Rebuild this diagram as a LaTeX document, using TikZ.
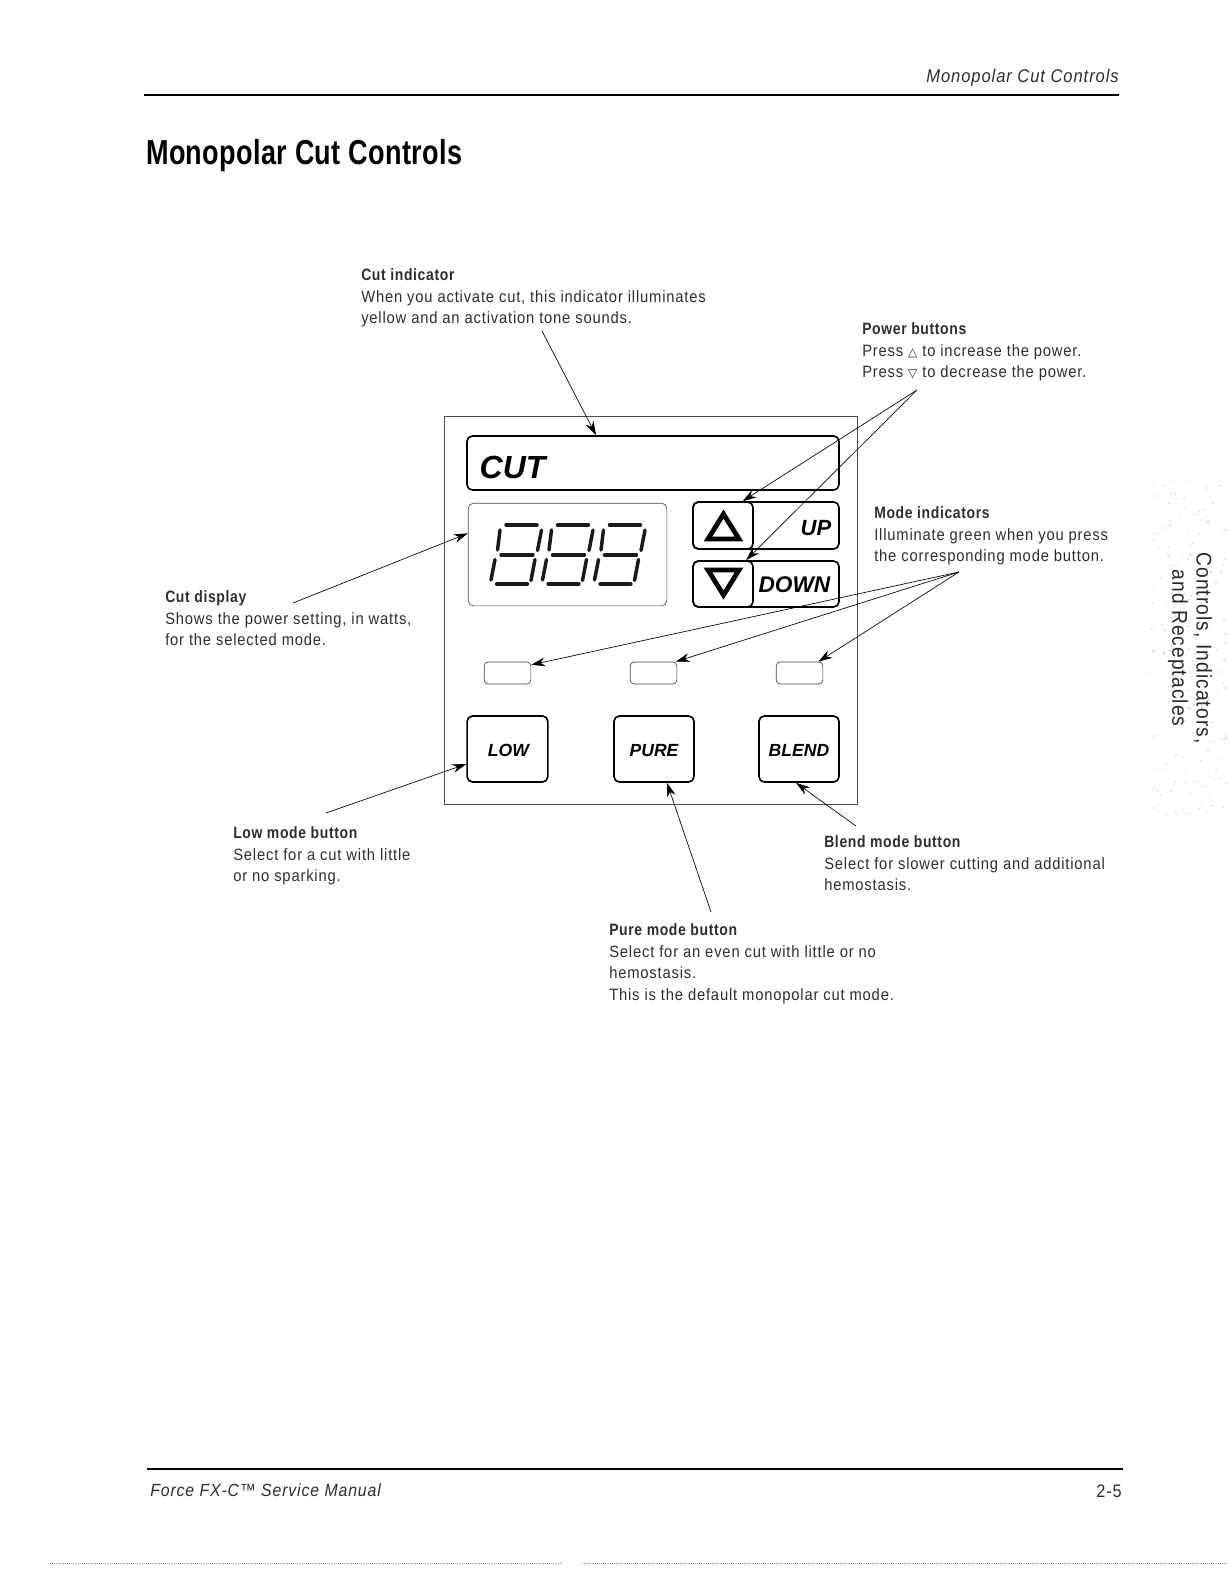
\documentclass[tikz,border=0pt]{standalone}
\usepackage{fontspec}
\setmainfont[FakeStretch=0.9, LetterSpace=5, BoldFeatures={FakeStretch=0.85, LetterSpace=4}]{Liberation Sans}
\newfontfamily\panelfont{Liberation Sans}
\newfontfamily\titlefont[FakeStretch=0.78, LetterSpace=1]{Liberation Sans}
\newfontfamily\symfont{DejaVu Sans}
\usetikzlibrary{arrows.meta, positioning}
\definecolor{inkgrey}{RGB}{45, 45, 45}
\begin{document}
\begin{tikzpicture}[
  x=0.75pt, y=-0.75pt,
  lbl/.style={anchor=north west, inner sep=0pt, align=left, text=inkgrey, font=\fontsize{12.3}{16.4}\selectfont},
  callout/.style={draw=black, line width=0.5pt, -{Stealth[length=10.5pt,width=6.5pt]}},
  panelkey/.style={draw=black, line width=1.2pt, rounded corners=4pt, inner sep=0pt},
  lamp/.style={draw=black!75, line width=0.5pt, rounded corners=3pt, inner sep=0pt, minimum width=35pt, minimum height=16.5pt},
  keytext/.style={font=\panelfont\bfseries\itshape\fontsize{13.2}{14}\selectfont},
  segment/.style={line width=2.6pt, line cap=round, black!90},
  thickseg/.style={line width=3.2pt, line cap=round, black!90},
  tabtext/.style={rotate=-90, anchor=center, text=black!85, font=\fontsize{16}{18}\selectfont}
]
  \useasboundingbox (0,0) rectangle (1228,1574);

  % page head
  \node[lbl, anchor=east, font=\itshape\fontsize{13.8}{16}\selectfont] (headtext) at (1119,78) {Monopolar Cut Controls};
  \coordinate (headl) at (144,95);
  \coordinate (headr) at (1119,95);
  \draw[line width=1.2pt] (headl) -- (headr);
  \node[lbl, anchor=west, text=black, font=\titlefont\bfseries\fontsize{26}{28}\selectfont] (title) at (146,156) {Monopolar Cut Controls};

  % front panel
  \node[draw=black!70, line width=0.6pt, inner sep=0pt, minimum width=309.75pt, minimum height=291pt] (panel) at (650.5,610) {};
  \node[panelkey, minimum width=279pt, minimum height=40.5pt] (cutbox) at (653,463) {};
  \node[anchor=west, font=\panelfont\bfseries\itshape\fontsize{24}{26}\selectfont] (cuttext) at (475,467) {CUT};
  \node[draw=black!70, line width=0.5pt, rounded corners=4pt, inner sep=0pt, minimum width=149pt, minimum height=77pt] (display) at (567.5,554.5) {};

  % 888 readout
  \foreach \dx in {0,51.5,103.5} {
    \begin{scope}[xshift=\dx*0.75pt]
      \draw[segment] (506,525) -- (537,525);
      \draw[segment] (501,555) -- (533,555);
      \draw[thickseg] (497,584) -- (527,584);
      \draw[segment] (500,530) -- (497.5,550);
      \draw[segment] (495,559.5) -- (491,580);
      \draw[segment] (541.5,530) -- (537.5,550.5);
      \draw[segment] (535,559.5) -- (531,580.5);
    \end{scope}
  }

  % power keys
  \node[panelkey, minimum width=109.5pt, minimum height=35.25pt] (upkey) at (766,525.5) {};
  \node[panelkey, minimum width=109.5pt, minimum height=34.5pt] (downkey) at (766,584) {};
  \node[panelkey, minimum width=45pt, minimum height=35.25pt] (upsym) at (723,525.5) {};
  \node[panelkey, minimum width=45pt, minimum height=34.5pt] (downsym) at (723,584) {};
  \draw[line width=3.6pt, line join=miter] (723.5,514) -- (739,539) -- (708,539) -- cycle;
  \draw[line width=3.6pt, line join=miter] (708,570) -- (739,570) -- (723.5,595) -- cycle;
  \node[anchor=east, font=\panelfont\bfseries\itshape\fontsize{16.5}{18}\selectfont] (uptext) at (836,528) {UP};
  \node[anchor=east, font=\panelfont\bfseries\itshape\fontsize{17}{18}\selectfont] (downtext) at (835,585) {DOWN};

  % mode lamps and keys
  \node[lamp] (lowlamp) at (507.5,673) {};
  \node[lamp] (purelamp) at (653.5,673) {};
  \node[lamp] (blendlamp) at (799.5,673) {};
  \node[panelkey, minimum width=60.5pt, minimum height=49.5pt] (lowkey) at (507.5,749) {};
  \node[panelkey, minimum width=60pt, minimum height=49.5pt] (purekey) at (654,749) {};
  \node[panelkey, minimum width=60pt, minimum height=49.5pt] (blendkey) at (799,749) {};
  \node[keytext] (lowtext) at (508.5,750.5) {LOW};
  \node[keytext] (puretext) at (654,750.5) {PURE};
  \node[keytext] (blendtext) at (799,750.5) {BLEND};

  % labels
  \node[lbl] (cutlbl) at (361,268) {\textbf{Cut indicator}\\
    When you activate cut, this indicator illuminates\\
    yellow and an activation tone sounds.};
  \node[lbl] (powerlbl) at (862,322) {\textbf{Power buttons}\\
    Press {\symfont\small △} to increase the power.\\
    Press {\symfont\small ▽} to decrease the power.};
  \node[lbl] (modelbl) at (874,506) {\textbf{Mode indicators}\\
    Illuminate green when you press\\
    the corresponding mode button.};
  \node[lbl] (displbl) at (165,590) {\textbf{Cut display}\\
    Shows the power setting, in watts,\\
    for the selected mode.};
  \node[lbl] (lowlbl) at (233,826) {\textbf{Low mode button}\\
    Select for a cut with little\\
    or no sparking.};
  \node[lbl] (blendlbl) at (824,835) {\textbf{Blend mode button}\\
    Select for slower cutting and additional\\
    hemostasis.};
  \node[lbl] (purelbl) at (609,923) {\textbf{Pure mode button}\\
    Select for an even cut with little or no\\
    hemostasis.\\
    This is the default monopolar cut mode.};

  % call-outs
  \coordinate (cutfrom) at (542,331);
  \coordinate (powerfrom) at (917,390);
  \coordinate (modefrom) at (959,572);
  \coordinate (dispfrom) at (293,603);
  \coordinate (lowfrom) at (326,813);
  \coordinate (purefrom) at (711,912);
  \coordinate (blendfrom) at (856,826);
  \draw[callout] (cutfrom) -- (cutbox.154);
  \draw[callout] (powerfrom) -- (upkey.134);
  \draw[callout] (powerfrom) -- (downkey.130);
  \draw[callout] (modefrom) -- (lowlamp.19);
  \draw[callout] (modefrom) -- (purelamp.27);
  \draw[callout] (modefrom) -- (blendlamp.31);
  \draw[callout] (dispfrom) -- (display.168);
  \draw[callout] (lowfrom) -- (lowkey.200);
  \draw[callout] (purefrom) -- (purekey.-69);
  \draw[callout] (blendfrom) -- (blendkey.-95);

  % side tab
  \node[tabtext] (tabone) at (1203,648) {Controls, Indicators,};
  \node[tabtext] (tabtwo) at (1178,648) {and Receptacles};
  \pgfmathsetseed{7}
  \foreach \i in {1,...,170} {
    \pgfmathsetmacro{\px}{1150+random(0,76)}
    \pgfmathsetmacro{\py}{480+random(0,335)}
    \fill[black!40] (\px,\py) circle (0.5pt);
  }

  % page foot
  \coordinate (footl) at (147,1469);
  \coordinate (footr) at (1123,1469);
  \draw[line width=1.2pt] (footl) -- (footr);
  \node[lbl, anchor=west, font=\itshape\fontsize{13.2}{16}\selectfont] (foottext) at (150,1490) {Force FX-C™ Service Manual};
  \node[lbl, anchor=east, font=\fontsize{13.6}{16}\selectfont] (pageno) at (1122,1491) {2-5};
  \coordinate (scanla) at (50,1563);
  \coordinate (scanlb) at (560,1563);
  \coordinate (scanra) at (582,1563);
  \coordinate (scanrb) at (1228,1563);
  \draw[black!45, line width=0.6pt, densely dotted] (scanla) -- (scanlb);
  \draw[black!45, line width=0.6pt, densely dotted] (scanra) -- (scanrb);
\end{tikzpicture}
\end{document}
